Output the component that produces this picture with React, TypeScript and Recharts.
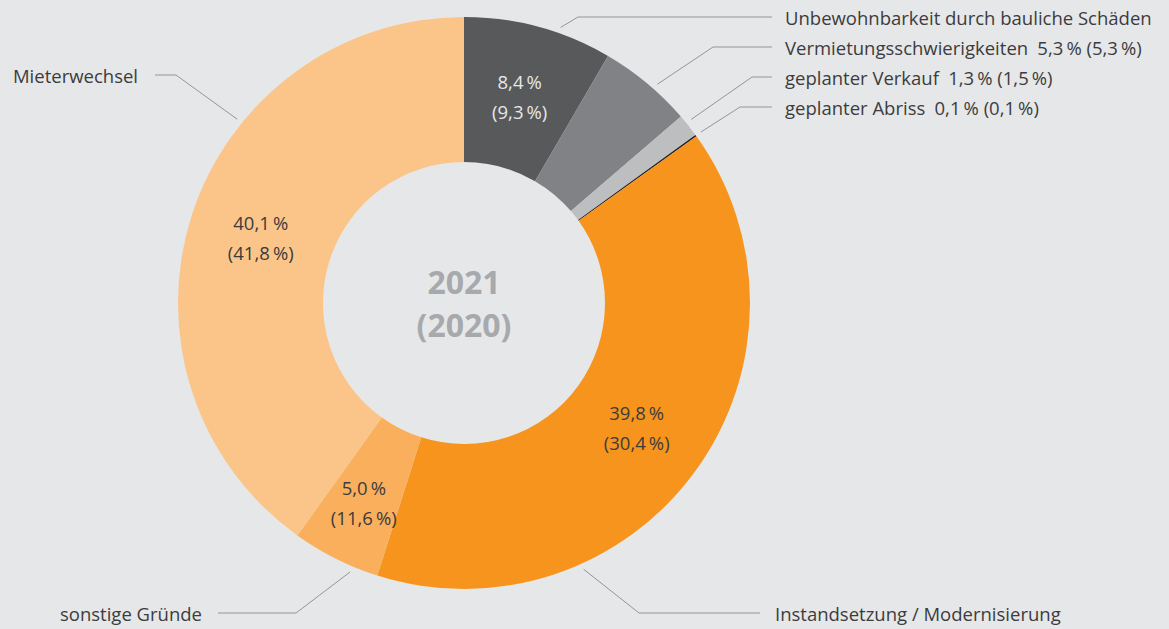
import { PieChart, Pie, Cell } from "recharts";

type Slice = { name: string; share: number; prev: number };

const categories = [
  "Unbewohnbarkeit durch bauliche Schäden",
  "Vermietungsschwierigkeiten",
  "geplanter Verkauf",
  "geplanter Abriss",
  "Instandsetzung / Modernisierung",
  "sonstige Gründe",
  "Mieterwechsel",
];
const values2021 = [8.4, 5.3, 1.3, 0.1, 39.8, 5.0, 40.1];
const values2020 = [9.3, 5.3, 1.5, 0.1, 30.4, 11.6, 41.8];
// which slices carry their numbers inside the ring, which beside the name
const insideLabel = [true, false, false, false, true, true, true];
const yearNow = "2021";
const yearPrev = "(2020)";

const colors = ["#58595b", "#808285", "#bcbec0", "#231f20", "#f7941d", "#f9af5c", "#fbc589"];
const innerTextColors = ["#e6e7e8", "#3c3c3e", "#3c3c3e", "#3c3c3e", "#3c3c3e", "#3c3c3e", "#3c3c3e"];

// leader line layout: angle shift from slice middle, bend point, line end, text x
const leaders = [
  { shift: -4.2, bx: 578, by: 17, ex: 772, tx: 785, anchor: "start" },
  { shift: -1.7, bx: 713, by: 47, ex: 772, tx: 785, anchor: "start" },
  { shift: 0.6, bx: 752, by: 77, ex: 772, tx: 785, anchor: "start" },
  { shift: 0, bx: 740, by: 107, ex: 772, tx: 785, anchor: "start" },
  { shift: -29.8, bx: 639, by: 613, ex: 760, tx: 775, anchor: "start" },
  { shift: 3.7, bx: 296, by: 613, ex: 218, tx: 202, anchor: "end" },
  { shift: -21.2, bx: 176, by: 75, ex: 155, tx: 138, anchor: "end" },
];

const data: Slice[] = categories.map((name, i) => ({
  name,
  share: values2021[i],
  prev: values2020[i],
}));

const fmt = (v: number) => v.toFixed(1).replace(".", ",") + "\u2009%";

const RADIAN = Math.PI / 180;
const FONT = "'Open Sans', sans-serif";
const TEXT = "#3c3c3e";

const renderLabel = (props: any) => {
  const { cx, cy, midAngle, innerRadius, outerRadius, index } = props;
  const d = data[index];
  const lay = leaders[index];
  const out: JSX.Element[] = [];

  const a = (midAngle + lay.shift) * RADIAN;
  const sr = outerRadius + 6;
  const sx = cx + sr * Math.cos(-a);
  const sy = cy + sr * Math.sin(-a);
  out.push(
    <polyline
      key="l"
      points={`${sx},${sy} ${lay.bx},${lay.by} ${lay.ex},${lay.by}`}
      fill="none"
      stroke="#939598"
      strokeWidth={1}
    />
  );
  out.push(
    <text
      key="n"
      x={lay.tx}
      y={lay.by}
      textAnchor={lay.anchor as any}
      dominantBaseline="central"
      fontFamily={FONT}
      fontSize={18.5}
      fill={TEXT}
    >
      {insideLabel[index] ? d.name : `${d.name}\u2002${fmt(d.share)} (${fmt(d.prev)})`}
    </text>
  );

  if (insideLabel[index]) {
    const r = (innerRadius + outerRadius) / 2 + (index === 5 ? 10 : 0);
    const x = cx + r * Math.cos(-midAngle * RADIAN);
    const y = cy + r * Math.sin(-midAngle * RADIAN);
    out.push(
      <text
        key="v"
        x={x}
        y={y}
        textAnchor="middle"
        fontFamily={FONT}
        fontSize={18.5}
        fill={innerTextColors[index]}
      >
        <tspan x={x} dy={-8}>{fmt(d.share)}</tspan>
        <tspan x={x} dy={30}>({fmt(d.prev)})</tspan>
      </text>
    );
  }

  if (index === 0) {
    out.push(
      <text
        key="c"
        x={cx}
        y={cy}
        textAnchor="middle"
        fontFamily={FONT}
        fontWeight={700}
        fontSize={32}
        fill="#a7a9ac"
      >
        <tspan x={cx} dy={-9}>{yearNow}</tspan>
        <tspan x={cx} dy={43}>{yearPrev}</tspan>
      </text>
    );
  }
  return <g>{out}</g>;
};

export default function App() {
  return (
    <div
      style={{
        position: "absolute",
        left: 0,
        top: 0,
        width: 1169,
        height: 629,
        background: "#e6e7e8",
      }}
    >
      <PieChart width={1169} height={629} margin={{ top: 0, right: 0, bottom: 0, left: 0 }}>
        <Pie
          data={data}
          dataKey="share"
          nameKey="name"
          cx={464}
          cy={303}
          innerRadius={141}
          outerRadius={286}
          startAngle={90}
          endAngle={-270}
          stroke="none"
          label={renderLabel}
          labelLine={false}
          isAnimationActive={false}
        >
          {data.map((d, i) => (
            <Cell key={d.name} fill={colors[i]} />
          ))}
        </Pie>
      </PieChart>
    </div>
  );
}
